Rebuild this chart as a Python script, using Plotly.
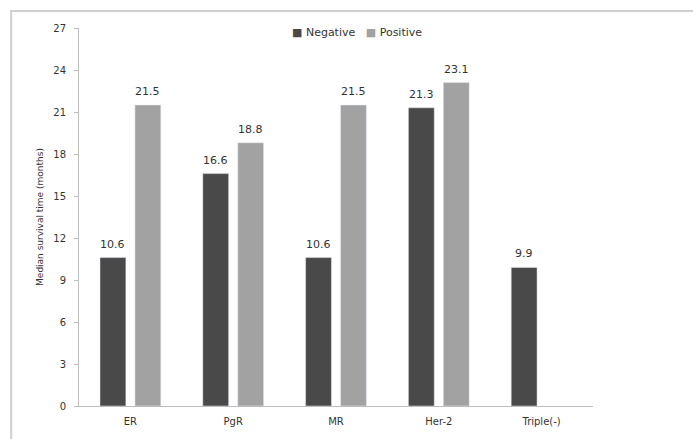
import plotly.graph_objects as go

categories = ["ER", "PgR", "MR", "Her-2", "Triple(-)"]
negative = [10.6, 16.6, 10.6, 21.3, 9.9]
positive = [21.5, 18.8, 21.5, 23.1, None]
y_ticks = [0, 3, 6, 9, 12, 15, 18, 21, 24, 27]

NEG_COLOR = "#494949"
POS_COLOR = "#a2a2a2"
TEXT_COLOR = "#333333"
font_family = "DejaVu Sans, Verdana, sans-serif"

fig = go.Figure()
fig.add_trace(go.Bar(name="Negative", x=categories, y=negative,
                     marker=dict(color=NEG_COLOR)))
fig.add_trace(go.Bar(name="Positive", x=categories, y=positive,
                     marker=dict(color=POS_COLOR)))

# value labels above each bar, shifted to sit over its own bar in the group
annotations = []
for series, shift in ((negative, -17.5), (positive, 17.5)):
    for cat, val in zip(categories, series):
        if val is None:
            continue
        annotations.append(dict(x=cat, y=val, xref="x", yref="y", text=f"{val:.1f}",
                                showarrow=False, xshift=shift, yshift=5,
                                yanchor="bottom", font=dict(size=11, color=TEXT_COLOR)))

# compact legend drawn as a text line with coloured square markers
annotations.append(dict(
    x=0.541, y=0.989, xref="paper", yref="paper", showarrow=False,
    xanchor="center", yanchor="middle",
    text=(f"<span style='color:{NEG_COLOR}'>■</span> Negative"
          f"&nbsp;&nbsp;&nbsp;<span style='color:{POS_COLOR}'>■</span> Positive"),
    font=dict(size=11, color=TEXT_COLOR)))

fig.update_layout(
    width=693, height=439,
    margin=dict(l=79, r=100, t=28, b=33),
    paper_bgcolor="white", plot_bgcolor="white",
    font=dict(family=font_family, size=10, color=TEXT_COLOR),
    barmode="group", bargap=0.32, bargroupgap=0.26,
    showlegend=False,
    annotations=annotations,
    shapes=[dict(type="rect", xref="paper", yref="paper",
                 x0=-0.132, x1=1.25, y0=-0.15, y1=1.045,
                 line=dict(color="#cfcfcf", width=2), layer="below")],
)
fig.update_xaxes(showline=True, linecolor="#bdbdbd", linewidth=1, ticks="",
                 ticklabelstandoff=6,
                 tickfont=dict(size=10, color=TEXT_COLOR))
fig.update_yaxes(range=[0, 27], tickvals=y_ticks, showgrid=False, zeroline=False,
                 showline=True, linecolor="#bdbdbd", linewidth=1,
                 ticks="outside", ticklen=4, tickcolor="#bdbdbd",
                 ticklabelstandoff=6,
                 tickfont=dict(size=10, color=TEXT_COLOR),
                 title=dict(text="Median survival time (months)",
                            font=dict(size=9, color=TEXT_COLOR), standoff=8))

fig.write_html("out.html")
